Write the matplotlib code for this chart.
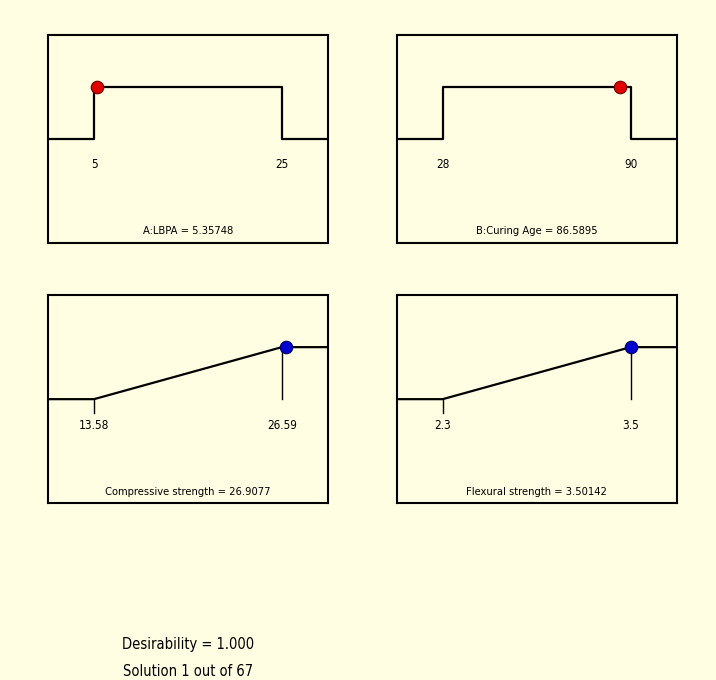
import matplotlib
matplotlib.use("Agg")
from matplotlib import pyplot as plt
from matplotlib import font_manager

# factors / responses: low, high, solution value
names = ["A:LBPA", "B:Curing Age", "Compressive strength", "Flexural strength"]
lows = [5, 28, 13.58, 2.3]
highs = [25, 90, 26.59, 3.5]
values = [5.35748, 86.5895, 26.9077, 3.50142]
value_text = ["5.35748", "86.5895", "26.9077", "3.50142"]
low_text = ["5", "28", "13.58", "2.3"]
high_text = ["25", "90", "26.59", "3.5"]
kinds = ["range", "range", "max", "max"]
desirability = "1.000"
solution = 1
n_solutions = 67

bg = "#fffde2"
# pick a narrow face if one is around
narrow = [f for f in font_manager.fontManager.ttflist
          if "Narrow" in f.name or "Condensed" in f.fname or f.stretch in ("condensed", 300, "semi-condensed")]
if narrow:
    fp = {"family": narrow[0].name, "stretch": narrow[0].stretch}
    scale = 1.0
else:
    fp = {"family": "DejaVu Sans"}
    scale = 0.8

fig = plt.figure(figsize=(7.16, 6.8), dpi=100, facecolor=bg)
positions = [[0.067, 0.643, 0.391, 0.306], [0.554, 0.643, 0.391, 0.306],
             [0.067, 0.260, 0.391, 0.306], [0.554, 0.260, 0.391, 0.306]]

for i in range(4):
    ax = fig.add_axes(positions[i])
    ax.set_facecolor(bg)
    lo, hi, v = lows[i], highs[i], values[i]
    pad = 0.245 * (hi - lo)
    x0, x1 = lo - pad, hi + pad
    if kinds[i] == "range":
        ax.plot([x0, lo, lo, hi, hi, x1], [0, 0, 1, 1, 0, 0], color="black", lw=1.6)
        col, edge = "#e00000", "#700000"
    else:
        ax.plot([x0, lo, hi, x1], [0, 0, 1, 1], color="black", lw=1.6)
        ax.plot([lo, lo], [0, -0.27], color="black", lw=1)
        ax.plot([hi, hi], [1, 0], color="black", lw=1)
        col, edge = "#0000d0", "#000060"
    ax.plot([v], [1], "o", ms=9, mfc=col, mec=edge, mew=0.8, zorder=5)
    ax.text(lo, -0.5, low_text[i], ha="center", va="center", fontsize=8.5 * scale, **fp)
    ax.text(hi, -0.5, high_text[i], ha="center", va="center", fontsize=8.5 * scale, **fp)
    ax.text(0.5, 0.055, names[i] + " = " + value_text[i], transform=ax.transAxes,
            ha="center", va="center", fontsize=8 * scale, **fp)
    ax.set_xlim(x0, x1)
    ax.set_ylim(-2, 2)
    ax.set_xticks([])
    ax.set_yticks([])
    for s in ax.spines.values():
        s.set_linewidth(1.5)

fig.text(0.262, 1 - 644 / 680, "Desirability = " + desirability, ha="center", va="center",
         fontsize=10.5 * scale, **fp)
fig.text(0.262, 1 - 672 / 680, "Solution %d out of %d" % (solution, n_solutions),
         ha="center", va="center", fontsize=10.5 * scale, **fp)

plt.savefig("out.png", facecolor=bg)
